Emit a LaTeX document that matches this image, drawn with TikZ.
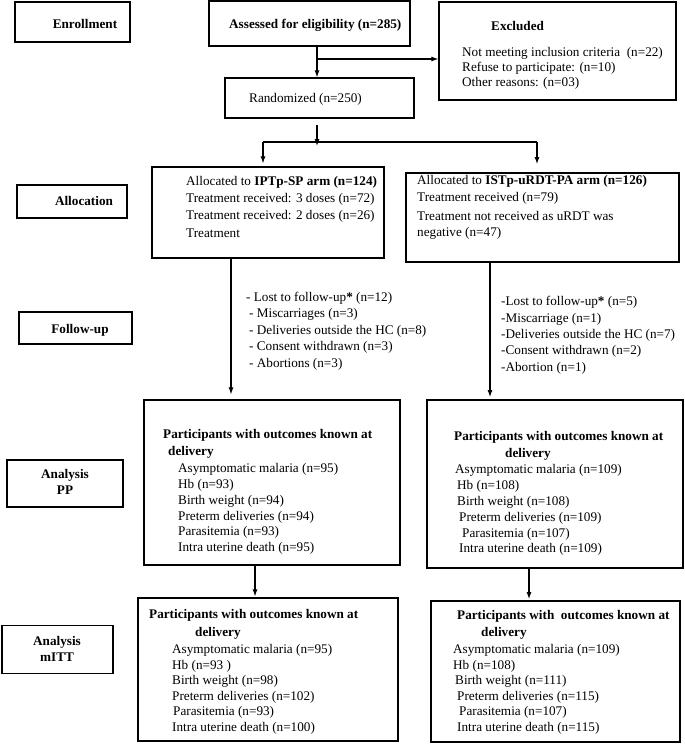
\documentclass[tikz,border=0pt]{standalone}
\usepackage{fontspec}
\setmainfont{Liberation Serif}
\usetikzlibrary{arrows.meta}
\begin{document}
\begin{tikzpicture}[x=1pt,y=-1pt,
  every node/.style={font=\fontsize{13.2}{16}\selectfont},
  box/.style={draw=black, line width=1.2pt, rectangle, inner sep=0pt},
  thickbox/.style={draw=black, line width=1.8pt, rectangle, inner sep=0pt},
  txt/.style={anchor=west, inner sep=0pt},
  bt/.style={anchor=west, inner sep=0pt, font=\fontsize{13.2}{16}\selectfont\bfseries},
  lbl/.style={inner sep=0pt, align=center, font=\fontsize{13.2}{16}\selectfont\bfseries},
  arr/.style={-{Latex[length=7pt,width=5pt]}, line width=1.1pt},
  conn/.style={line width=1.1pt}]
\fill[white] (0,0) rectangle (685,745);
\useasboundingbox (0,0) rectangle (685,745);
% boxes
\node[box, minimum width=115pt, minimum height=40pt] (enroll) at (72.5,22) {};
\node[box, minimum width=201pt, minimum height=45pt] (assess) at (309.5,23.5) {};
\node[box, minimum width=237pt, minimum height=98pt] (excl) at (557.5,51) {};
\node[box, minimum width=189pt, minimum height=40pt] (rand) at (319.5,98) {};
\node[box, minimum width=110pt, minimum height=33pt] (alloc) at (72,201.5) {};
\node[box, minimum width=232pt, minimum height=91pt] (iptp) at (268,212.5) {};
\node[thickbox, minimum width=273pt, minimum height=89pt] (istp) at (542.5,217.5) {};
\node[box, minimum width=113pt, minimum height=32pt] (fu) at (75.5,328) {};
\node[box, minimum width=116pt, minimum height=47pt] (anpp) at (65,483.5) {};
\node[box, minimum width=256pt, minimum height=165pt] (pp1) at (272,482.5) {};
\node[thickbox, minimum width=256pt, minimum height=168pt] (pp2) at (555,484) {};
\node[box, minimum width=111pt, minimum height=48pt] (anitt) at (57.5,649.5) {};
\node[box, minimum width=260pt, minimum height=143pt] (itt1) at (268,669.5) {};
\node[thickbox, minimum width=249pt, minimum height=141pt] (itt2) at (555.5,671.5) {};
% labels of boxes
\node[lbl] (tenroll) at (85,24) {Enrollment};
\node[lbl] (talloc) at (84,201) {Allocation};
\node[lbl] (tfu) at (80,330) {Follow-up};
\node[lbl] (tanpp) at (65,482) {Analysis\\PP};
\node[lbl] (tanitt) at (57,649) {Analysis\\mITT};
% enrollment row
\node[bt] (tassess) at (229,25) {Assessed for eligibility (n=285)};
\node[bt] (texcl) at (491,26) {Excluded};
\node[txt] (te1) at (462,53) {Not meeting inclusion criteria\ \ (n=22)};
\node[txt] (te2) at (462,68) {Refuse to participate: (n=10)};
\node[txt] (te3) at (462,83) {Other reasons: (n=03)};
\node[txt] (trand) at (249,99) {Randomized (n=250)};
% allocation
\node[txt] (ta1) at (186,182) {Allocated to \textbf{IPTp-SP arm (n=124)}};
\node[txt] (ta2) at (186,199) {Treatment received: 3 doses (n=72)};
\node[txt] (ta3) at (186,216) {Treatment received: 2 doses (n=26)};
\node[txt] (ta4) at (186,233) {Treatment};
\node[txt] (tb1) at (417,181) {Allocated to \textbf{ISTp-uRDT-PA arm (n=126)}};
\node[txt] (tb2) at (417,198) {Treatment received (n=79)};
\node[txt] (tb3) at (417,216) {Treatment not received as uRDT was};
\node[txt] (tb4) at (417,233) {negative (n=47)};
% follow-up
\node[txt] (tf1) at (246,298) {- Lost to follow-up\textbf{*} (n=12)};
\node[txt] (tf2) at (249,314) {- Miscarriages (n=3)};
\node[txt] (tf3) at (249,331) {- Deliveries outside the HC (n=8)};
\node[txt] (tf4) at (249,347) {- Consent withdrawn (n=3)};
\node[txt] (tf5) at (249,364) {- Abortions (n=3)};
\node[txt] (tg1) at (501,302) {-Lost to follow-up\textbf{*} (n=5)};
\node[txt] (tg2) at (501,319) {-Miscarriage (n=1)};
\node[txt] (tg3) at (501,335) {-Deliveries outside the HC (n=7)};
\node[txt] (tg4) at (501,351) {-Consent withdrawn (n=2)};
\node[txt] (tg5) at (501,368) {-Abortion (n=1)};
% PP left
\node[bt] (tp1) at (163,435) {Participants with outcomes known at};
\node[bt] (tp2) at (168,452) {delivery};
\node[txt] (tp3) at (178,469) {Asymptomatic malaria (n=95)};
\node[txt] (tp4) at (178,485) {Hb (n=93)};
\node[txt] (tp5) at (178,501) {Birth weight (n=94)};
\node[txt] (tp6) at (178,517) {Preterm deliveries (n=94)};
\node[txt] (tp7) at (178,532) {Parasitemia (n=93)};
\node[txt] (tp8) at (178,548) {Intra uterine death (n=95)};
% PP right
\node[bt] (tq1) at (454,437) {Participants with outcomes known at};
\node[bt] (tq2) at (505,454) {delivery};
\node[txt] (tq3) at (455,470) {Asymptomatic malaria (n=109)};
\node[txt] (tq4) at (457,486) {Hb (n=108)};
\node[txt] (tq5) at (457,502) {Birth weight (n=108)};
\node[txt] (tq6) at (459,518) {Preterm deliveries (n=109)};
\node[txt] (tq7) at (462,534) {Parasitemia (n=107)};
\node[txt] (tq8) at (459,549) {Intra uterine death (n=109)};
% mITT left
\node[bt] (tr1) at (149,615) {Participants with outcomes known at};
\node[bt] (tr2) at (195,633) {delivery};
\node[txt] (tr3) at (172,650) {Asymptomatic malaria (n=95)};
\node[txt] (tr4) at (172,666) {Hb (n=93 )};
\node[txt] (tr5) at (172,681) {Birth weight (n=98)};
\node[txt] (tr6) at (172,697) {Preterm deliveries (n=102)};
\node[txt] (tr7) at (173,712) {Parasitemia (n=93)};
\node[txt] (tr8) at (172,728) {Intra uterine death (n=100)};
% mITT right
\node[bt] (ts1) at (457,616) {Participants with\ \ outcomes known at};
\node[bt] (ts2) at (481,633) {delivery};
\node[txt] (ts3) at (453,650) {Asymptomatic malaria (n=109)};
\node[txt] (ts4) at (453,666) {Hb (n=108)};
\node[txt] (ts5) at (455,681) {Birth weight (n=111)};
\node[txt] (ts6) at (457,697) {Preterm deliveries (n=115)};
\node[txt] (ts7) at (459,712) {Parasitemia (n=107)};
\node[txt] (ts8) at (457,728) {Intra uterine death (n=115)};
% connector columns
\coordinate (colA) at (317,0);
\coordinate (colL2) at (231,0);
\coordinate (colR2) at (490,0);
\coordinate (colL3) at (255,0);
\coordinate (colR3) at (529,0);
\coordinate (br) at (317,59);
\coordinate (hl) at (263,142);
\coordinate (hr) at (537,142);
% connectors
\draw[arr] (assess.south -| colA) -- (rand.north -| colA);
\draw[arr] (br) -- (br -| excl.west);
\draw[arr] ([yshift=-6pt]rand.south -| colA) -- ([yshift=-4pt]hl -| colA);
\draw[conn] (hl) -- (hr);
\draw[arr] (hl) -- ([yshift=3pt]iptp.north -| hl);
\draw[arr] (hr) -- ([yshift=8pt]istp.north -| hr);
\draw[arr] (iptp.south -| colL2) -- ([yshift=5pt]pp1.north -| colL2);
\draw[arr] (istp.south -| colR2) -- ([yshift=2pt]pp2.north -| colR2);
\draw[arr] (pp1.south -| colL3) -- ([yshift=1pt]itt1.north -| colL3);
\draw[arr] (pp2.south -| colR3) -- ([yshift=1pt]itt2.north -| colR3);
\end{tikzpicture}
\end{document}
